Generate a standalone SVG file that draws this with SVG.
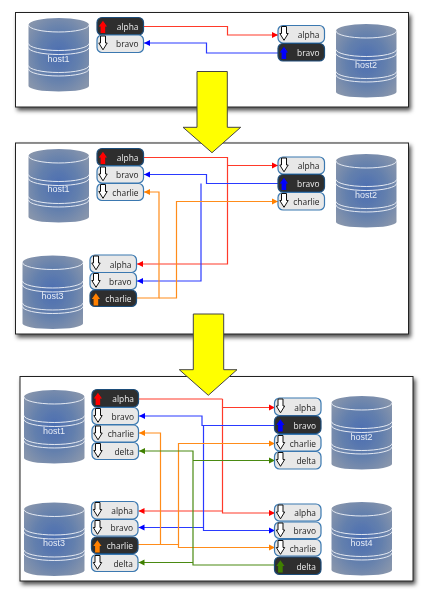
<svg xmlns="http://www.w3.org/2000/svg" width="428" height="600" viewBox="0 0 428 600">
<style>
.panel{fill:#fff;stroke:#222;stroke-width:1;filter:url(#sh)}
.big{fill:#ffff00;stroke:#444;stroke-width:1;stroke-linejoin:miter}
.pl{fill:#e8e8e8;stroke:#3a78b0;stroke-width:1.2}
.pd{fill:#2e2e2e;stroke:#1f4d7a;stroke-width:1.2}
.tl,.td{font-family:"Open Sans",sans-serif;font-size:8.4px;text-anchor:end}
.tl{fill:#222}.td{fill:#eee}
.hl{font-family:"Liberation Sans",sans-serif;font-size:9px;fill:#e8edf5;text-anchor:middle}
.c{fill:none;stroke-width:1.2}
.r{stroke:#ff3a2a;marker-end:url(#mr)}.b{stroke:#2a3aff;marker-end:url(#mb)}.o{stroke:#ff8c1a;marker-end:url(#mo)}.g{stroke:#4a8a12;marker-end:url(#mg)}
.rn{stroke:#ff3a2a}
.dn{fill:#fff;stroke:#111;stroke-width:1}
g[id^="p"]{filter:url(#soft)}
</style>
<defs>
<filter id="sh" x="-5%" y="-5%" width="110%" height="115%"><feDropShadow dx="2" dy="3" stdDeviation="2" flood-color="#000" flood-opacity=".7"/></filter>
<filter id="soft" x="-10%" y="-10%" width="120%" height="120%"><feGaussianBlur stdDeviation=".35"/></filter>
<radialGradient id="cg" cx=".5" cy=".5" r=".62"><stop offset="0" stop-color="#4a6db2"/><stop offset=".55" stop-color="#6480ad"/><stop offset="1" stop-color="#8795ac"/></radialGradient>
<marker id="mr" markerUnits="userSpaceOnUse" markerWidth="7" markerHeight="7" refX="6" refY="3.5" orient="auto"><path d="M0 .5L6 3.5L0 6.5Z" fill="#ff0000"/></marker>
<marker id="mb" markerUnits="userSpaceOnUse" markerWidth="7" markerHeight="7" refX="6" refY="3.5" orient="auto"><path d="M0 .5L6 3.5L0 6.5Z" fill="#0000ff"/></marker>
<marker id="mo" markerUnits="userSpaceOnUse" markerWidth="7" markerHeight="7" refX="6" refY="3.5" orient="auto"><path d="M0 .5L6 3.5L0 6.5Z" fill="#ff8000"/></marker>
<marker id="mg" markerUnits="userSpaceOnUse" markerWidth="7" markerHeight="7" refX="6" refY="3.5" orient="auto"><path d="M0 .5L6 3.5L0 6.5Z" fill="#408000"/></marker>
<symbol id="cyl" overflow="visible">
<path d="M0 7A30.25 7 0 0 1 60.5 7V68A30.25 5.5 0 0 1 0 68Z" fill="url(#cg)"/>
<g fill="none" stroke="#e4e9f2" stroke-width="1">
<path d="M0 7A30.25 7 0 0 0 60.5 7"/><path d="M0 25.500A30.25 7 0 0 0 60.5 25.500"/><path d="M0 29.500A30.25 7 0 0 0 60.5 29.500"/><path d="M0 47.500A30.25 7 0 0 0 60.5 47.500"/><path d="M0 51A30.25 7 0 0 0 60.5 51"/>
</g>
</symbol>
<path id="dn" class="dn" d="M3.500 1H8.500V8H10.200L6 14.800L1.800 8H3.500Z"/>
<path id="up" d="M5.900 3.300L10 9H8.200V15.500H3.600V9H1.800Z"/>
</defs>
<rect id="panel1" class="panel" x="15.500" y="12.500" width="393" height="94.500"/>
<rect id="panel2" class="panel" x="15.500" y="143" width="393" height="191"/>
<rect id="panel3" class="panel" x="20" y="376.500" width="393" height="204.500"/>
<g id="connectors">
<path class="c r" d="M144 26.500H227.500V35H278"/>
<path class="c b" d="M278 53H206.500V43H144"/>
<path class="c r" d="M144 157.500H227.500V264H137"/>
<path class="c r" d="M227.500 165.500H278"/>
<path class="c b" d="M278 183.500H206.500V174.500H144"/>
<path class="c b" d="M201 183.500V281H137"/>
<path class="c o" d="M137 298H159V192H144"/>
<path class="c o" d="M159 298H176.500V201.500H278"/>
<path class="c rn" d="M139 399H222.500"/>
<path class="c r" d="M222.500 399V407.500H275"/>
<path class="c r" d="M222.500 407.500V513H275"/>
<path class="c r" d="M222.500 511H138.500"/>
<path class="c b" d="M275 425.500H202V416H139"/>
<path class="c b" d="M203.500 425.500V530.500H275"/>
<path class="c b" d="M203.500 527.500H138.500"/>
<path class="c o" d="M138 544.500H160.500V433H139"/>
<path class="c o" d="M160.500 544.500H178.500V443.500H275"/>
<path class="c o" d="M178.500 544.500V547.500H275"/>
<path class="c g" d="M275 565H193V451H139"/>
<path class="c g" d="M193 460.500H275"/>
<path class="c g" d="M193 562.500H138.500"/>
</g>
<g id="p1-host1"><use href="#cyl" x="28.500" y="18"/><text class="hl" x="58.500" y="62">host1</text></g>
<g id="p1-host2"><use href="#cyl" x="336" y="24"/><text class="hl" x="366" y="68">host2</text></g>
<g id="p1-host1-alpha"><rect class="pd" x="97" y="17.500" width="46.500" height="17.500" rx="5"/><use href="#up" x="97" y="17.500" fill="#ff0000"/><text class="td" x="138.500" y="30">alpha</text></g>
<g id="p1-host1-bravo"><rect class="pl" x="97" y="35" width="46.500" height="17.500" rx="5"/><use href="#dn" x="97" y="35"/><text class="tl" x="138.500" y="47">bravo</text></g>
<g id="p1-host2-alpha"><rect class="pl" x="278" y="25.500" width="46.500" height="17.500" rx="5"/><use href="#dn" x="278" y="25.500"/><text class="tl" x="319.500" y="38">alpha</text></g>
<g id="p1-host2-bravo"><rect class="pd" x="278" y="43.500" width="46.500" height="17.500" rx="5"/><use href="#up" x="278" y="43.500" fill="#0000ff"/><text class="td" x="319.500" y="56">bravo</text></g>
<g id="p2-host1"><use href="#cyl" x="28.500" y="149"/><text class="hl" x="58.500" y="192">host1</text></g>
<g id="p2-host2"><use href="#cyl" x="336" y="154"/><text class="hl" x="366" y="198">host2</text></g>
<g id="p2-host3"><use href="#cyl" x="22.500" y="255.500"/><text class="hl" x="52.500" y="299">host3</text></g>
<g id="p2-host1-alpha"><rect class="pd" x="97" y="148.500" width="46.500" height="17" rx="5"/><use href="#up" x="97" y="148.500" fill="#ff0000"/><text class="td" x="138.500" y="161">alpha</text></g>
<g id="p2-host1-bravo"><rect class="pl" x="97" y="166" width="46.500" height="17" rx="5"/><use href="#dn" x="97" y="166"/><text class="tl" x="138.500" y="178">bravo</text></g>
<g id="p2-host1-charlie"><rect class="pl" x="97" y="183.500" width="46.500" height="17" rx="5"/><use href="#dn" x="97" y="183.500"/><text class="tl" x="138.500" y="196">charlie</text></g>
<g id="p2-host2-alpha"><rect class="pl" x="278" y="157" width="46.500" height="17" rx="5"/><use href="#dn" x="278" y="157"/><text class="tl" x="319.500" y="169">alpha</text></g>
<g id="p2-host2-bravo"><rect class="pd" x="278" y="174.500" width="46.500" height="17.500" rx="5"/><use href="#up" x="278" y="174.500" fill="#0000ff"/><text class="td" x="319.500" y="187">bravo</text></g>
<g id="p2-host2-charlie"><rect class="pl" x="278" y="192.500" width="46.500" height="17.500" rx="5"/><use href="#dn" x="278" y="192.500"/><text class="tl" x="319.500" y="205">charlie</text></g>
<g id="p2-host3-alpha"><rect class="pl" x="90" y="255" width="46.500" height="17.500" rx="5"/><use href="#dn" x="90" y="255"/><text class="tl" x="131.500" y="267.500">alpha</text></g>
<g id="p2-host3-bravo"><rect class="pl" x="90" y="272.500" width="46.500" height="17" rx="5"/><use href="#dn" x="90" y="272.500"/><text class="tl" x="131.500" y="284.500">bravo</text></g>
<g id="p2-host3-charlie"><rect class="pd" x="90" y="290" width="46.500" height="16.500" rx="5"/><use href="#up" x="90" y="290" fill="#ff8000"/><text class="td" x="131.500" y="301.500">charlie</text></g>
<g id="p3-host1"><use href="#cyl" x="24" y="390"/><text class="hl" x="54" y="434">host1</text></g>
<g id="p3-host2"><use href="#cyl" x="331.500" y="396"/><text class="hl" x="361.500" y="440">host2</text></g>
<g id="p3-host3"><use href="#cyl" x="24" y="502.500"/><text class="hl" x="54" y="546">host3</text></g>
<g id="p3-host4"><use href="#cyl" x="331.500" y="502"/><text class="hl" x="361.500" y="546">host4</text></g>
<g id="p3-host1-alpha"><rect class="pd" x="92" y="389.500" width="46.500" height="17.500" rx="5"/><use href="#up" x="92" y="389.500" fill="#ff0000"/><text class="td" x="134" y="402">alpha</text></g>
<g id="p3-host1-bravo"><rect class="pl" x="92" y="407.500" width="46.500" height="17" rx="5"/><use href="#dn" x="92" y="407.500"/><text class="tl" x="134" y="420">bravo</text></g>
<g id="p3-host1-charlie"><rect class="pl" x="92" y="425" width="46.500" height="17" rx="5"/><use href="#dn" x="92" y="425"/><text class="tl" x="134" y="437">charlie</text></g>
<g id="p3-host1-delta"><rect class="pl" x="92" y="442.500" width="46.500" height="17" rx="5"/><use href="#dn" x="92" y="442.500"/><text class="tl" x="134" y="455">delta</text></g>
<g id="p3-host2-alpha"><rect class="pl" x="274.500" y="398" width="46.500" height="17.500" rx="5"/><use href="#dn" x="274.500" y="398"/><text class="tl" x="316" y="411">alpha</text></g>
<g id="p3-host2-bravo"><rect class="pd" x="274.500" y="416" width="46.500" height="17.500" rx="5"/><use href="#up" x="274.500" y="416" fill="#0000ff"/><text class="td" x="316" y="429">bravo</text></g>
<g id="p3-host2-charlie"><rect class="pl" x="274.500" y="434.500" width="46.500" height="16.500" rx="5"/><use href="#dn" x="274.500" y="434.500"/><text class="tl" x="316" y="446.500">charlie</text></g>
<g id="p3-host2-delta"><rect class="pl" x="274.500" y="451.500" width="46.500" height="17.500" rx="5"/><use href="#dn" x="274.500" y="451.500"/><text class="tl" x="316" y="464">delta</text></g>
<g id="p3-host3-alpha"><rect class="pl" x="91.500" y="501.500" width="46.500" height="17.500" rx="5"/><use href="#dn" x="91.500" y="501.500"/><text class="tl" x="133" y="514">alpha</text></g>
<g id="p3-host3-bravo"><rect class="pl" x="91.500" y="519.500" width="46.500" height="16.500" rx="5"/><use href="#dn" x="91.500" y="519.500"/><text class="tl" x="133" y="531">bravo</text></g>
<g id="p3-host3-charlie"><rect class="pd" x="91.500" y="537" width="46.500" height="16.500" rx="5"/><use href="#up" x="91.500" y="537" fill="#ff8000"/><text class="td" x="133" y="548.500">charlie</text></g>
<g id="p3-host3-delta"><rect class="pl" x="91.500" y="554.500" width="46.500" height="17" rx="5"/><use href="#dn" x="91.500" y="554.500"/><text class="tl" x="133" y="566.500">delta</text></g>
<g id="p3-host4-alpha"><rect class="pl" x="274.500" y="504" width="46.500" height="17" rx="5"/><use href="#dn" x="274.500" y="504"/><text class="tl" x="316" y="516">alpha</text></g>
<g id="p3-host4-bravo"><rect class="pl" x="274.500" y="522" width="46.500" height="16.500" rx="5"/><use href="#dn" x="274.500" y="522"/><text class="tl" x="316" y="534">bravo</text></g>
<g id="p3-host4-charlie"><rect class="pl" x="274.500" y="539.500" width="46.500" height="16.500" rx="5"/><use href="#dn" x="274.500" y="539.500"/><text class="tl" x="316" y="551.500">charlie</text></g>
<g id="p3-host4-delta"><rect class="pd" x="274.500" y="557" width="46.500" height="17.500" rx="5"/><use href="#up" x="274.500" y="557" fill="#408000"/><text class="td" x="316" y="569.500">delta</text></g>
<path id="step1" class="big" d="M197 71.500H227.300V127.300H240.700L212 152.700L183 127.300H197Z"/>
<path id="step2" class="big" d="M193.300 314H223.700V369.700H237L208.300 395.300L179.300 369.700H193.300Z"/>
</svg>
